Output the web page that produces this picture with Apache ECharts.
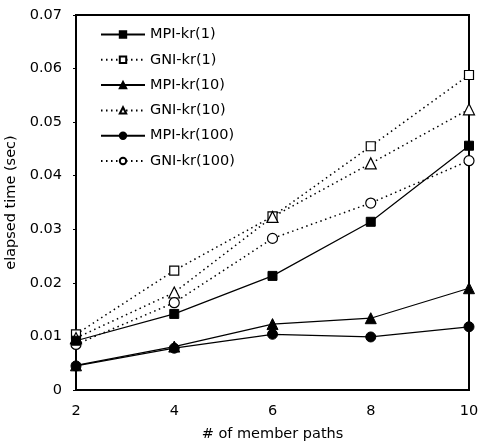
<!DOCTYPE html>
<html>
<head>
<meta charset="utf-8">
<script src="https://cdn.jsdelivr.net/npm/echarts@6/dist/echarts.min.js"></script>
<style>
  html, body { margin: 0; padding: 0; background: #fff; }
  #chart { width: 480px; height: 442px; }
</style>
</head>
<body>
<div id="chart"></div>
<script>
// Number of member paths on the x axis
const memberPaths = [2, 4, 6, 8, 10];

// Elapsed time (sec) for each configuration
const mpiKr1   = [0.0092, 0.0142, 0.0213, 0.0314, 0.0456];
const gniKr1   = [0.0104, 0.0223, 0.0324, 0.0455, 0.0588];
const mpiKr10  = [0.0046, 0.0081, 0.0123, 0.0134, 0.0190];
const gniKr10  = [0.0097, 0.0182, 0.0323, 0.0423, 0.0524];
const mpiKr100 = [0.0045, 0.0078, 0.0104, 0.0099, 0.0118];
const gniKr100 = [0.0085, 0.0163, 0.0283, 0.0349, 0.0428];

const yTicks = [0, 0.01, 0.02, 0.03, 0.04, 0.05, 0.06, 0.07];

const FONT = 'DejaVu Sans';
const FS = 14.5;

function pairs(values) {
  return memberPaths.map((x, i) => [x, values[i]]);
}

function solidSeries(name, values, symbol, size) {
  return {
    name, type: 'line', data: pairs(values),
    symbol, symbolSize: size,
    lineStyle: { color: '#000', width: 1.2, type: 'solid' },
    itemStyle: { color: '#000', borderColor: '#000', borderWidth: 1 },
    emphasis: { disabled: true }, z: 3
  };
}

function dottedSeries(name, values, symbol, size) {
  return {
    name, type: 'line', data: pairs(values),
    symbol, symbolSize: size,
    lineStyle: { color: '#000', width: 1.5, type: [1.5, 3.5] },
    itemStyle: { color: '#fff', borderColor: '#000', borderWidth: 1.2 },
    emphasis: { disabled: true }, z: 2
  };
}

const chart = echarts.init(document.getElementById('chart'), null, { renderer: 'canvas' });

chart.setOption({
  animation: false,
  backgroundColor: '#fff',
  textStyle: { fontFamily: FONT, color: '#000' },
  grid: {
    left: 76, right: 11, top: 15, bottom: 52,
    outerBoundsMode: 'none', containLabel: false,
    show: true, borderColor: '#000', borderWidth: 2, backgroundColor: 'transparent'
  },
  legend: {
    orient: 'vertical', left: 100, top: 27, padding: 0,
    itemWidth: 44, itemHeight: 8, itemGap: 10.3,
    textStyle: { fontFamily: FONT, fontSize: FS, lineHeight: 14, color: '#000' },
    data: ['MPI-kr(1)', 'GNI-kr(1)', 'MPI-kr(10)', 'GNI-kr(10)', 'MPI-kr(100)', 'GNI-kr(100)']
  },
  xAxis: {
    type: 'value', min: 2, max: 10, interval: 2,
    name: '# of member paths', nameLocation: 'middle', nameGap: 37,
    nameTextStyle: { fontFamily: FONT, fontSize: FS, color: '#000' },
    axisLine: { show: true, lineStyle: { color: '#000', width: 2 } },
    axisTick: { show: false },
    axisLabel: { fontFamily: FONT, fontSize: FS, color: '#000', margin: 14 },
    splitLine: { show: false }
  },
  yAxis: {
    type: 'value', min: 0, max: 0.07, interval: 0.01,
    name: 'elapsed time (sec)', nameLocation: 'middle', nameGap: 55, nameRotate: 90,
    nameTextStyle: { fontFamily: FONT, fontSize: FS, color: '#000' },
    axisLine: { show: true, lineStyle: { color: '#000', width: 2 } },
    axisTick: { show: true, length: 3, lineStyle: { color: '#000', width: 1 } },
    axisLabel: {
      fontFamily: FONT, fontSize: FS, color: '#000', margin: 14,
      formatter: v => {
        const t = yTicks.find(k => Math.abs(k - v) < 1e-9);
        return t === 0 ? '0' : (t !== undefined ? t.toFixed(2) : '');
      }
    },
    splitLine: { show: false }
  },
  series: [
    solidSeries('MPI-kr(1)', mpiKr1, 'rect', 9),
    dottedSeries('GNI-kr(1)', gniKr1, 'rect', 9),
    solidSeries('MPI-kr(10)', mpiKr10, 'triangle', 11),
    dottedSeries('GNI-kr(10)', gniKr10, 'triangle', 11),
    solidSeries('MPI-kr(100)', mpiKr100, 'circle', 10),
    dottedSeries('GNI-kr(100)', gniKr100, 'circle', 10)
  ]
});
</script>
</body>
</html>
